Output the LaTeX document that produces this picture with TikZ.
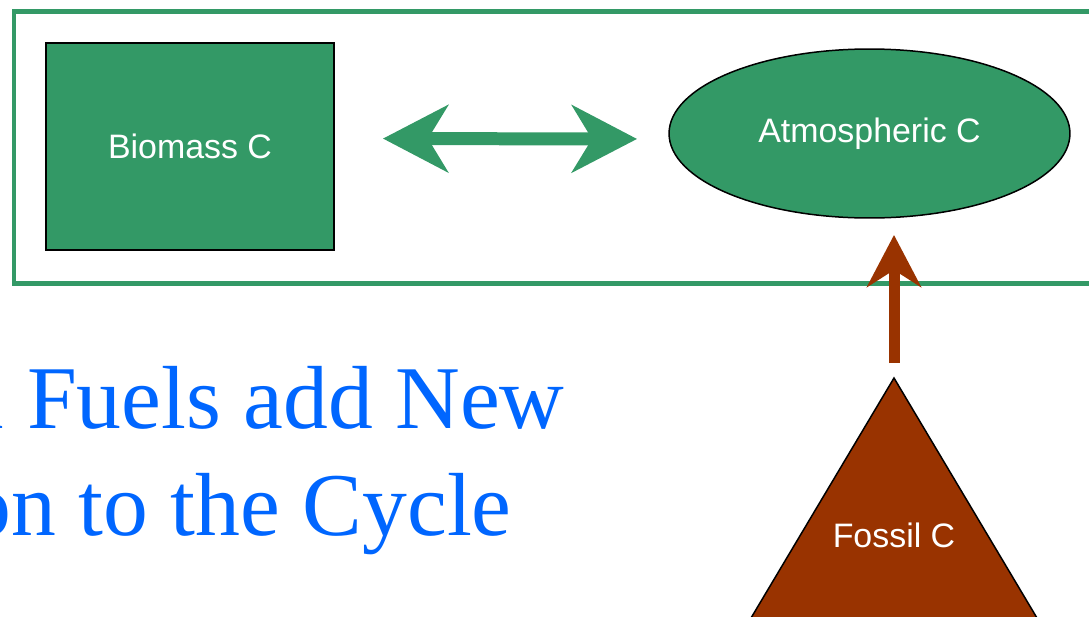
\documentclass[tikz,border=0pt]{standalone}
\usepackage{fontspec}
\setmainfont{Liberation Serif}
\setsansfont{Liberation Sans}
\usepackage{tikz}
\usetikzlibrary{positioning,shapes.geometric,arrows.meta}

\definecolor{leaf}{HTML}{339966}
\definecolor{rust}{HTML}{993300}
\definecolor{heading}{HTML}{0066FF}

\tikzset{
  pool/.style={draw=black,fill=leaf,text=white,inner sep=0pt,outer sep=0pt,
    font=\sffamily\fontsize{19.3}{23}\selectfont},
  heading/.style={text=heading,inner sep=0pt,anchor=base east,
    font=\rmfamily\fontsize{51}{61}\selectfont}
}

\begin{document}
\begin{tikzpicture}[x=0.02cm,y=-0.02cm]
\useasboundingbox (0,0) rectangle (1089,616);
\clip (0,0) rectangle (1089,616);

\draw[leaf,line width=0.1cm] (14,11) rectangle (1110,283);

\node[pool,rectangle,line width=0.04cm,minimum width=5.76cm,minimum height=4.14cm] (bio) at (190,146.5) {Biomass C};
\node[pool,ellipse,line width=0.03cm,minimum width=8.02cm,minimum height=3.38cm] (atm) at (869.5,133.5) {Atmospheric C};

\draw[fill=rust,line width=0.03cm] (894,378) coordinate (apex) -- (751,618) -- (1037,618) -- cycle;
\node[text=white,font=\sffamily\fontsize{19.3}{23}\selectfont] (fossil) at (894,535) {Fossil C};

\node[heading] (line1) at (565,428) {Fossil Fuels add New};
\node[heading] (line2) at (512,535) {Carbon to the Cycle};

\draw [leaf,line width=0.26cm,{Stealth[length=1.3cm,width=1.34cm,inset=0.4cm]}-{Stealth[length=1.3cm,width=1.34cm,inset=0.4cm]},shorten <=0.98cm,shorten >=0.64cm] ([yshift=0.16cm]bio.east) -- ([yshift=-0.11cm]atm.west);
\draw [rust,line width=0.22cm,-{Stealth[length=1.04cm,width=1.08cm,inset=0.34cm]},shorten <=0.3cm,shorten >=0.34cm] (apex) -- (apex |- atm.south);

\end{tikzpicture}
\end{document}
